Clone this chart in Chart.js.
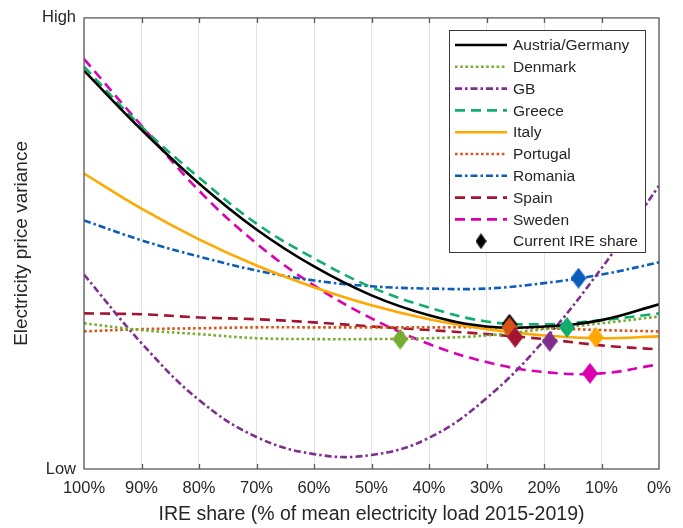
<!DOCTYPE html>
<html><head><meta charset="utf-8">
<script src="https://cdn.jsdelivr.net/npm/chart.js@4.4.1/dist/chart.umd.min.js"></script>
<style>html,body{margin:0;padding:0;background:#fff}#wrap{width:683px;height:528px;position:relative}</style>
</head><body><div id="wrap"><canvas id="c" width="683" height="528"></canvas></div>
<script>
// x positions (IRE share, %)
const shares = [100, 90, 80, 70, 60, 50, 40, 30, 20, 10, 0];
// relative electricity price variance (0 = Low, 100 = High), read at each share
const austriaGermany = [88.3, 75.2, 63.3, 53.1, 44.9, 38.5, 34.1, 31.6, 31.6, 33.0, 36.5];
const denmark        = [32.3, 30.8, 29.9, 29.0, 28.8, 28.8, 29.0, 29.6, 31.0, 32.3, 33.8];
const gb             = [43.1, 27.9, 15.3, 7.1, 3.3, 3.1, 6.9, 15.7, 28.5, 44.5, 62.8];
const greece         = [89.2, 75.9, 64.6, 54.4, 46.7, 40.3, 35.8, 32.7, 32.1, 33.0, 34.5];
const italy          = [65.5, 57.7, 50.9, 45.1, 40.3, 36.3, 33.2, 31.0, 29.6, 29.0, 29.4];
const portugal       = [30.5, 31.0, 31.2, 31.4, 31.4, 31.4, 31.4, 31.4, 31.2, 30.8, 30.5];
const romania        = [55.1, 50.7, 47.1, 44.0, 41.8, 40.5, 40.0, 40.0, 41.2, 43.1, 45.8];
const spain          = [34.5, 34.3, 33.6, 33.2, 32.5, 31.6, 30.8, 29.9, 28.8, 27.4, 26.5];
const sweden         = [90.9, 76.1, 61.7, 50.0, 40.7, 33.4, 27.7, 23.7, 21.5, 21.2, 23.2];

const countries = ['Austria/Germany', 'Denmark', 'GB', 'Greece', 'Italy', 'Portugal', 'Romania', 'Spain', 'Sweden'];
const seriesValues = [austriaGermany, denmark, gb, greece, italy, portugal, romania, spain, sweden];
// current IRE share of each country and its variance
const currentShare    = [26, 45, 19, 16, 11, 26, 14, 25, 12];
const currentVariance = [32.1, 28.8, 28.3, 31.4, 29.2, 31.4, 42.3, 29.2, 21.2];
const markerLabel = 'Current IRE share';
const yTickLabels = {0: 'Low', 100: 'High'};
const xTitle = 'IRE share (% of mean electricity load 2015-2019)';
const yTitle = 'Electricity price variance';

// styles
const colors = ['#000000', '#77AC30', '#7E2F8E', '#10AE6C', '#FFA800', '#D95319', '#0B5CBB', '#A2142F', '#DB00B0'];
const dashes = [[], [2.6, 2.6], [7, 3, 2.5, 3], [10, 6], [], [2.6, 2.6], [7, 3, 2.5, 3], [10, 6], [10, 6]];
const FONT = '"Liberation Sans", Arial, Helvetica, sans-serif';
const TXT = '#262626';

function diamond(color, w, h) {
  const c = document.createElement('canvas');
  c.width = w; c.height = h;
  const g = c.getContext('2d');
  g.fillStyle = color;
  g.beginPath();
  g.moveTo(w / 2, 0); g.lineTo(w, h / 2); g.lineTo(w / 2, h); g.lineTo(0, h / 2);
  g.closePath(); g.fill();
  return c;
}

const datasets = countries.map((name, i) => ({
  type: 'line',
  label: name,
  data: shares.map((s, j) => ({x: s, y: seriesValues[i][j]})),
  borderColor: colors[i],
  borderWidth: 2.6,
  borderDash: dashes[i],
  borderCapStyle: 'butt',
  tension: 0.4,
  pointRadius: 0,
  fill: false,
  order: 2
}));
datasets.push({
  type: 'scatter',
  label: markerLabel,
  data: currentShare.map((s, i) => ({x: s, y: currentVariance[i]})),
  pointStyle: colors.map(c => diamond(c, 16, 21)),
  pointRadius: 10,
  showLine: false,
  order: 1
});

const boxPlugin = {
  id: 'boxPlugin',
  afterDatasetsDraw(chart) {
    const {ctx, chartArea: a, scales} = chart;
    ctx.save();
    ctx.strokeStyle = '#5a5a5a';
    ctx.lineWidth = 1.3;
    ctx.strokeRect(a.left, a.top, a.right - a.left, a.bottom - a.top);
    ctx.beginPath();
    for (let v = 10; v < 100; v += 10) {
      const x = Math.round(scales.x.getPixelForValue(v)) + 0.5;
      ctx.moveTo(x, a.bottom); ctx.lineTo(x, a.bottom - 5);
      ctx.moveTo(x, a.top); ctx.lineTo(x, a.top + 5);
    }
    ctx.stroke();
    ctx.restore();
  },
  afterDraw(chart) {
    const ctx = chart.ctx;
    const L = 449.5, T = 30.5, W = 196, H = 222;
    ctx.save();
    ctx.fillStyle = '#fff';
    ctx.fillRect(L, T, W, H);
    ctx.strokeStyle = '#3a3a3a';
    ctx.lineWidth = 1;
    ctx.strokeRect(L, T, W, H);
    ctx.font = '15.5px ' + FONT;
    ctx.textBaseline = 'middle';
    const step = 21.8;
    countries.forEach((name, i) => {
      const y = 45 + i * step;
      ctx.beginPath();
      ctx.strokeStyle = colors[i];
      ctx.lineWidth = 2.6;
      ctx.setLineDash(dashes[i]);
      ctx.moveTo(455, y); ctx.lineTo(507, y);
      ctx.stroke();
      ctx.setLineDash([]);
      ctx.fillStyle = TXT;
      ctx.fillText(name, 513, y + 1);
    });
    const y = 45 + countries.length * step;
    ctx.drawImage(diamond('#000', 11, 16), 481 - 5.5, y - 8);
    ctx.fillStyle = TXT;
    ctx.fillText(markerLabel, 513, y + 1);
    ctx.restore();
  }
};

new Chart(document.getElementById('c'), {
  data: {datasets},
  options: {
    responsive: false,
    animation: false,
    devicePixelRatio: 1,
    layout: {padding: {top: 17, right: 24, left: 0, bottom: 0}},
    plugins: {legend: {display: false}, tooltip: {enabled: false}},
    scales: {
      x: {
        type: 'linear', reverse: true, min: 0, max: 100,
        afterFit: s => { s.height = 59; },
        ticks: {stepSize: 10, autoSkip: false, maxRotation: 0, padding: 10, color: TXT,
                font: {family: FONT, size: 16.5}, callback: v => v + '%'},
        grid: {color: '#e4e4e4', lineWidth: 1, drawTicks: false},
        border: {display: false},
        title: {display: true, text: xTitle, color: TXT, font: {family: FONT, size: 19.5}, padding: {top: 3, bottom: 2}}
      },
      y: {
        type: 'linear', min: 0, max: 100,
        afterFit: s => { s.width = 84; },
        afterBuildTicks: s => { s.ticks = [{value: 0}, {value: 100}]; },
        ticks: {padding: 8, color: TXT, font: {family: FONT, size: 16.5}, callback: v => yTickLabels[v]},
        grid: {display: false, drawTicks: false},
        border: {display: false},
        title: {display: true, text: yTitle, color: TXT, font: {family: FONT, size: 19}, padding: {top: 10, bottom: 0}}
      }
    }
  },
  plugins: [boxPlugin]
});
</script>
</body></html>
